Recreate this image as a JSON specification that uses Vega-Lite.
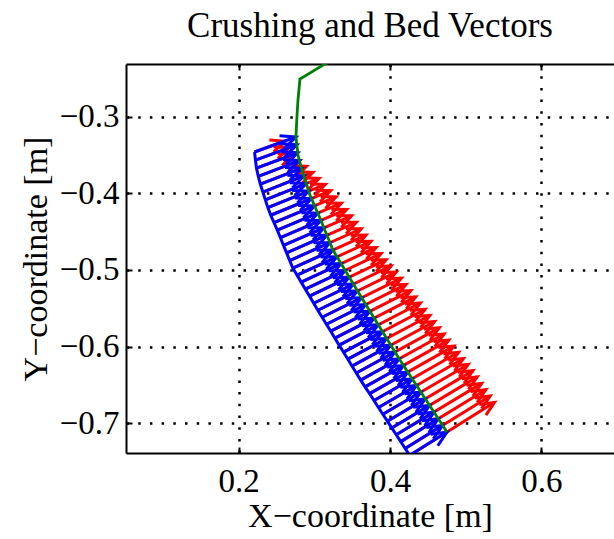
{
  "$schema": "https://vega.github.io/schema/vega-lite/v6.json",
  "width": 488,
  "height": 389,
  "autosize": "none",
  "padding": {"left": 126, "top": 64, "right": 0, "bottom": 86},
  "background": "white",
  "title": {"text": "Crushing and Bed Vectors", "font": "Liberation Serif", "fontSize": 35, "fontWeight": "normal", "anchor": "middle", "frame": "group", "offset": -9, "baseline": "alphabetic", "color": "black"},
  "config": {
    "view": {"stroke": null},
    "axis": {
      "domainColor": "black", "domainWidth": 2, "tickColor": "black", "tickWidth": 2, "tickSize": -6,
      "labelFont": "Liberation Serif", "labelFontSize": 33, "labelColor": "black",
      "titleFont": "Liberation Serif", "titleFontSize": 34, "titleFontWeight": "normal", "titleColor": "black",
      "gridColor": "black", "gridDash": [2.5, 9.2], "gridWidth": 2.5, "gridOpacity": 1,
      "labelFlush": false, "labelOverlap": false
    }
  },
  "datasets": {
    "vec": [
      {"xb": 0.2209, "yb": -0.3461, "xg": 0.2756, "yg": -0.3265, "xr": 0.2607, "yr": -0.3319},
      {"xb": 0.2222, "yb": -0.3568, "xg": 0.2768, "yg": -0.3368, "xr": 0.2662, "yr": -0.3407},
      {"xb": 0.2235, "yb": -0.3672, "xg": 0.2780, "yg": -0.3471, "xr": 0.2718, "yr": -0.3495},
      {"xb": 0.2259, "yb": -0.3778, "xg": 0.2802, "yg": -0.3573, "xr": 0.2804, "yr": -0.3573},
      {"xb": 0.2286, "yb": -0.3881, "xg": 0.2829, "yg": -0.3674, "xr": 0.2896, "yr": -0.3648},
      {"xb": 0.2319, "yb": -0.3983, "xg": 0.2861, "yg": -0.3773, "xr": 0.2979, "yr": -0.3727},
      {"xb": 0.2352, "yb": -0.4085, "xg": 0.2892, "yg": -0.3872, "xr": 0.3061, "yr": -0.3805},
      {"xb": 0.2385, "yb": -0.4186, "xg": 0.2924, "yg": -0.3971, "xr": 0.3145, "yr": -0.3884},
      {"xb": 0.2423, "yb": -0.4286, "xg": 0.2961, "yg": -0.4068, "xr": 0.3215, "yr": -0.3965},
      {"xb": 0.2467, "yb": -0.4383, "xg": 0.3003, "yg": -0.4163, "xr": 0.3285, "yr": -0.4047},
      {"xb": 0.2510, "yb": -0.4481, "xg": 0.3045, "yg": -0.4258, "xr": 0.3356, "yr": -0.4129},
      {"xb": 0.2551, "yb": -0.4579, "xg": 0.3086, "yg": -0.4353, "xr": 0.3426, "yr": -0.4210},
      {"xb": 0.2592, "yb": -0.4678, "xg": 0.3126, "yg": -0.4450, "xr": 0.3491, "yr": -0.4293},
      {"xb": 0.2633, "yb": -0.4777, "xg": 0.3166, "yg": -0.4546, "xr": 0.3554, "yr": -0.4378},
      {"xb": 0.2674, "yb": -0.4877, "xg": 0.3205, "yg": -0.4643, "xr": 0.3619, "yr": -0.4462},
      {"xb": 0.2715, "yb": -0.4976, "xg": 0.3245, "yg": -0.4740, "xr": 0.3682, "yr": -0.4545},
      {"xb": 0.2771, "yb": -0.5067, "xg": 0.3299, "yg": -0.4828, "xr": 0.3748, "yr": -0.4625},
      {"xb": 0.2826, "yb": -0.5158, "xg": 0.3353, "yg": -0.4917, "xr": 0.3816, "yr": -0.4706},
      {"xb": 0.2880, "yb": -0.5250, "xg": 0.3406, "yg": -0.5006, "xr": 0.3881, "yr": -0.4785},
      {"xb": 0.2936, "yb": -0.5341, "xg": 0.3460, "yg": -0.5094, "xr": 0.3947, "yr": -0.4866},
      {"xb": 0.2991, "yb": -0.5434, "xg": 0.3515, "yg": -0.5184, "xr": 0.4014, "yr": -0.4947},
      {"xb": 0.3045, "yb": -0.5525, "xg": 0.3569, "yg": -0.5273, "xr": 0.4081, "yr": -0.5027},
      {"xb": 0.3102, "yb": -0.5616, "xg": 0.3624, "yg": -0.5362, "xr": 0.4149, "yr": -0.5106},
      {"xb": 0.3159, "yb": -0.5708, "xg": 0.3678, "yg": -0.5451, "xr": 0.4211, "yr": -0.5187},
      {"xb": 0.3216, "yb": -0.5798, "xg": 0.3734, "yg": -0.5538, "xr": 0.4274, "yr": -0.5268},
      {"xb": 0.3271, "yb": -0.5889, "xg": 0.3789, "yg": -0.5627, "xr": 0.4338, "yr": -0.5350},
      {"xb": 0.3327, "yb": -0.5980, "xg": 0.3844, "yg": -0.5715, "xr": 0.4400, "yr": -0.5431},
      {"xb": 0.3385, "yb": -0.6072, "xg": 0.3899, "yg": -0.5804, "xr": 0.4463, "yr": -0.5512},
      {"xb": 0.3441, "yb": -0.6162, "xg": 0.3955, "yg": -0.5893, "xr": 0.4525, "yr": -0.5594},
      {"xb": 0.3496, "yb": -0.6253, "xg": 0.4009, "yg": -0.5980, "xr": 0.4588, "yr": -0.5672},
      {"xb": 0.3554, "yb": -0.6343, "xg": 0.4064, "yg": -0.6069, "xr": 0.4650, "yr": -0.5755},
      {"xb": 0.3611, "yb": -0.6436, "xg": 0.4120, "yg": -0.6158, "xr": 0.4713, "yr": -0.5835},
      {"xb": 0.3669, "yb": -0.6524, "xg": 0.4177, "yg": -0.6245, "xr": 0.4775, "yr": -0.5915},
      {"xb": 0.3729, "yb": -0.6613, "xg": 0.4235, "yg": -0.6331, "xr": 0.4841, "yr": -0.5993},
      {"xb": 0.3787, "yb": -0.6703, "xg": 0.4292, "yg": -0.6419, "xr": 0.4905, "yr": -0.6073},
      {"xb": 0.3846, "yb": -0.6793, "xg": 0.4350, "yg": -0.6506, "xr": 0.4969, "yr": -0.6154},
      {"xb": 0.3904, "yb": -0.6882, "xg": 0.4407, "yg": -0.6592, "xr": 0.5032, "yr": -0.6232},
      {"xb": 0.3964, "yb": -0.6972, "xg": 0.4465, "yg": -0.6680, "xr": 0.5095, "yr": -0.6312},
      {"xb": 0.4022, "yb": -0.7060, "xg": 0.4521, "yg": -0.6766, "xr": 0.5151, "yr": -0.6394},
      {"xb": 0.4081, "yb": -0.7149, "xg": 0.4580, "yg": -0.6853, "xr": 0.5209, "yr": -0.6479},
      {"xb": 0.4141, "yb": -0.7239, "xg": 0.4636, "yg": -0.6940, "xr": 0.5265, "yr": -0.6561},
      {"xb": 0.4199, "yb": -0.7328, "xg": 0.4693, "yg": -0.7026, "xr": 0.5322, "yr": -0.6643},
      {"xb": 0.4259, "yb": -0.7418, "xg": 0.4751, "yg": -0.7114, "xr": 0.5379, "yr": -0.6726}
    ],
    "green": [
      {"x": 0.3247, "y": -0.2248},
      {"x": 0.2809, "y": -0.2509},
      {"x": 0.2783, "y": -0.2783},
      {"x": 0.2769, "y": -0.3004},
      {"x": 0.2756, "y": -0.3265},
      {"x": 0.2783, "y": -0.3500},
      {"x": 0.2835, "y": -0.3696},
      {"x": 0.2941, "y": -0.4022},
      {"x": 0.3073, "y": -0.4322},
      {"x": 0.3245, "y": -0.4740},
      {"x": 0.3602, "y": -0.5327},
      {"x": 0.4130, "y": -0.6175},
      {"x": 0.4751, "y": -0.7114}
    ]
  },
  "layer": [
    {
      "data": {"name": "vec"},
      "mark": {"type": "rule", "color": "#ff0000", "strokeWidth": 3, "clip": true},
      "encoding": {
        "x": {"field": "xb", "type": "quantitative", "scale": {"domain": [0.0511, 0.6958], "nice": false, "zero": false},
              "axis": {"orient": "bottom", "values": [0.2, 0.4, 0.6], "format": ".1f", "grid": true, "title": "X−coordinate [m]", "labelPadding": 18, "titlePadding": 1}},
        "y": {"field": "yb", "type": "quantitative", "scale": {"domain": [-0.7387, -0.2313], "nice": false, "zero": false},
              "axis": {"orient": "left", "values": [-0.7, -0.6, -0.5, -0.4, -0.3], "format": ".1f", "grid": true, "title": "Y−coordinate [m]", "labelPadding": 13, "titlePadding": 6}},
        "x2": {"field": "xr"},
        "y2": {"field": "yr"}
      }
    },
    {
      "data": {"name": "vec"},
      "mark": {"type": "point", "shape": "M-1,-0.45L0,0L-1,0.45", "filled": false, "stroke": "#ff0000", "strokeWidth": 3, "opacity": 1, "size": 784, "clip": true},
      "encoding": {
        "x": {"field": "xr", "type": "quantitative", "axis": null},
        "y": {"field": "yr", "type": "quantitative", "axis": null},
        "angle": {"field": "yg", "type": "quantitative", "scale": {"domain": [-0.7114, -0.3265], "range": [328, 340]}, "legend": null}
      }
    },
    {
      "data": {"name": "vec"},
      "mark": {"type": "rule", "color": "#0000ff", "strokeWidth": 3, "clip": true},
      "encoding": {
        "x": {"field": "xb", "type": "quantitative", "axis": null},
        "y": {"field": "yb", "type": "quantitative", "axis": null},
        "x2": {"field": "xg"},
        "y2": {"field": "yg"}
      }
    },
    {
      "data": {"name": "vec"},
      "mark": {"type": "line", "color": "#0000ff", "strokeWidth": 3, "clip": true},
      "encoding": {
        "x": {"field": "xb", "type": "quantitative", "axis": null},
        "y": {"field": "yb", "type": "quantitative", "axis": null},
        "order": {"field": "yb", "sort": "descending"}
      }
    },
    {
      "data": {"name": "vec"},
      "mark": {"type": "point", "shape": "M-1,-0.45L0,0L-1,0.45", "filled": false, "stroke": "#0000ff", "strokeWidth": 3, "opacity": 1, "size": 900, "clip": true},
      "encoding": {
        "x": {"field": "xg", "type": "quantitative", "axis": null},
        "y": {"field": "yg", "type": "quantitative", "axis": null},
        "angle": {"field": "yg", "type": "quantitative", "scale": {"domain": [-0.7114, -0.3265], "range": [328, 340]}, "legend": null}
      }
    },
    {
      "data": {"name": "green"},
      "mark": {"type": "line", "color": "#008000", "strokeWidth": 2.8, "clip": true},
      "encoding": {
        "x": {"field": "x", "type": "quantitative", "axis": {"orient": "top", "values": [0.2, 0.4, 0.6], "labels": false, "grid": false, "title": null}},
        "y": {"field": "y", "type": "quantitative", "axis": null},
        "order": {"field": "y", "sort": "descending"}
      }
    }
  ],
  "resolve": {"axis": {"x": "independent", "y": "independent"}}
}
